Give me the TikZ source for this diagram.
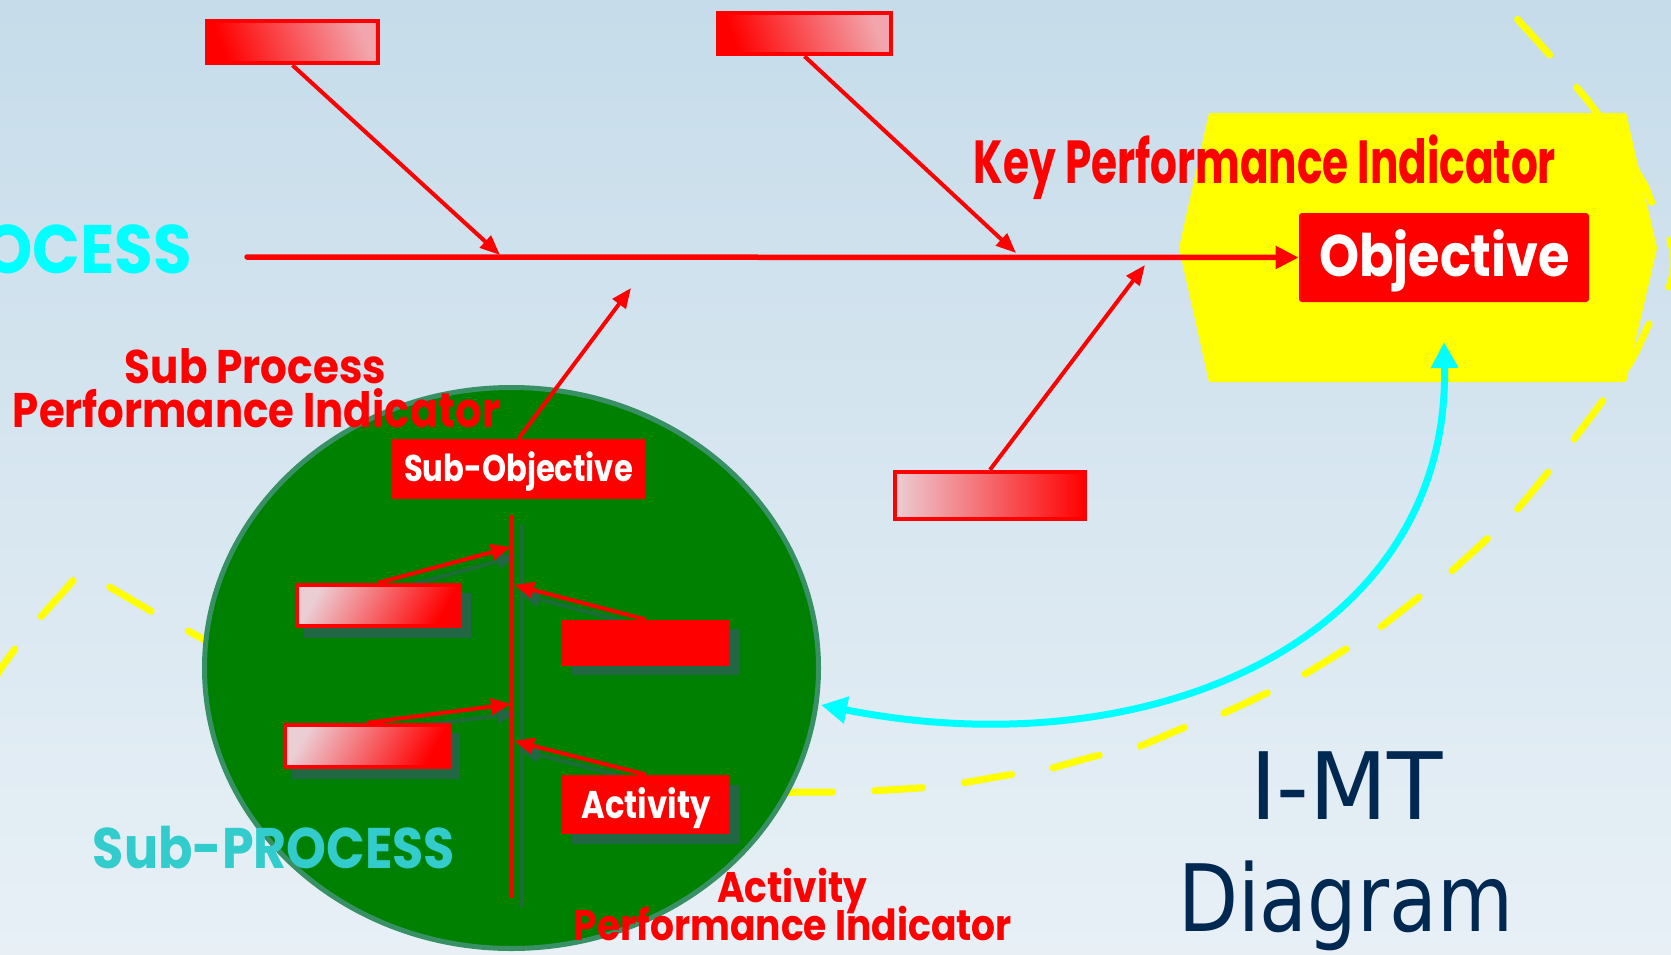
\documentclass[tikz,border=0pt]{standalone}
\usepackage{fontspec}
\usepackage{graphicx}
\usetikzlibrary{arrows.meta,shapes.geometric}
\setmainfont{Poppins}
\newfontfamily\dvfont{DejaVu Sans}
\newlength\pxu
\setlength\pxu{0.5pt}
\newcommand\fitw[3]{\resizebox{#2\pxu}{\height}{\fontsize{#1}{#1}\selectfont\bfseries #3}}
\newcommand\fitn[3]{\resizebox{#2\pxu}{\height}{\fontsize{#1}{#1}\selectfont\dvfont #3}}
\definecolor{bgtop}{RGB}{198,220,234}
\definecolor{bgbot}{RGB}{232,240,246}
\definecolor{cgreen}{RGB}{0,128,0}
\definecolor{cborder}{RGB}{55,145,100}
\definecolor{pinkA}{RGB}{242,165,172}
\definecolor{pinkB}{RGB}{235,205,212}
\definecolor{shadowc}{RGB}{45,95,90}
\definecolor{subproc}{RGB}{51,204,204}
\definecolor{navy}{RGB}{0,40,80}
\definecolor{pred}{RGB}{255,0,0}
\definecolor{pyellow}{RGB}{255,255,0}
\definecolor{pcyan}{RGB}{0,255,255}
\begin{document}
\begin{tikzpicture}[x=0.5pt,y=-0.5pt,
  txt/.style={inner sep=0,anchor=base},
  gbox/.style={draw=pred,line width=2.25pt,inner sep=0},
  sbox/.style={fill=pred,inner sep=0},
  shbox/.style={fill=shadowc,opacity=0.75,inner sep=0},
  bigarrow/.style={draw=pred,line width=2.75pt,-{Triangle[length=11.5pt,width=11pt]}},
  diagarrow/.style={draw=pred,line width=2pt,-{Triangle[length=10pt,width=8pt]}},
  innerarrow/.style={draw=pred,line width=2pt,-{Triangle[length=10pt,width=8pt]}},
  shadowarrow/.style={draw=shadowc,opacity=0.6,line width=2pt,-{Triangle[length=10pt,width=8pt]}},
  yelldash/.style={draw=pyellow,line width=3.5pt,line cap=round,dash pattern=on 24pt off 21pt},
  cyanarrow/.style={draw=pcyan,line width=3.5pt,{Triangle[length=13pt,width=13pt]}-{Triangle[length=13pt,width=13pt]}}
]
\useasboundingbox (0,0) rectangle (1671,954);
% background
\fill[top color=bgtop,bottom color=bgbot] (0,0) rectangle (1671,954);

% dashed yellow outline
\draw[yelldash] plot[smooth,tension=0.6] coordinates {
 (-10,690) (0,670) (28,632) (64,591) (80,575) (95,579) (137,603) (168,621) (203,639)
 (350,720) (600,790) (810,792) (866,791) (918,788) (956,784) (1008,775) (1044,770)
 (1096,756) (1132,749) (1183,728) (1217,716) (1267,693) (1298,678) (1346,649)
 (1375,631) (1419,597) (1447,575) (1488,538) (1514,513) (1549,471) (1571,443)
 (1604,399) (1630,363) (1650,322) (1668,290) (1674,262) (1668,235) (1652,203)
 (1640,177) (1597,113) (1572,82) (1548,53) (1512,13) (1495,-10)};

% yellow hexagon
\fill[pyellow] (1209,113) -- (1626,113) -- (1657,248) -- (1626,382) -- (1209,382) -- (1179,248) -- cycle;

% process texts
\node[txt,anchor=base east,text=pcyan] (proc) at (192,273) {\fitw{34.3}{288}{PROCESS}};
\node[txt,text=pred] (kpi) at (1265,183) {\fitw{30.4}{582}{Key Performance Indicator}};

% objective
\node[sbox,rounded corners=1.5pt,minimum width=290\pxu,minimum height=89\pxu] (obj) at (1444,257.5) {};
\node[txt,text=white] (objt) at (1444.5,276) {\fitw{29.3}{251}{Objective}};

% main spine
\coordinate (spine) at (247,257);
\draw[bigarrow,line cap=round] (spine) -- (obj.west);

% top and bottom cause boxes
\node[gbox,left color=pred,right color=pinkA,shading angle=110,minimum width=171\pxu,minimum height=42\pxu] (b1) at (292.5,42) {};
\node[gbox,left color=pred,right color=pinkA,shading angle=110,minimum width=173\pxu,minimum height=41\pxu] (b2) at (804.5,33.5) {};
\node[gbox,left color=pinkB,right color=pred,minimum width=190\pxu,minimum height=47\pxu] (b3) at (990,495.5) {};
\coordinate (t1) at (500,255);
\coordinate (t2) at (1016,253);
\coordinate (t3) at (1145,265);
\coordinate (t4) at (631,288);
\draw[diagarrow] (b1.south) -- (t1);
\draw[diagarrow] (b2.south) -- (t2);
\draw[diagarrow] (b3.north) -- (t3);

% sub process circle
\node[ellipse,draw=cborder,line width=2.5pt,fill=cgreen,minimum width=614\pxu,minimum height=561\pxu,inner sep=0] (circ) at (511.5,668) {};

% sub process labels
\node[txt,text=pred] (spi1) at (255.5,383) {\fitw{23.6}{261}{Sub Process}};
\node[txt,text=pred] (spi2) at (256.5,427) {\fitw{24.3}{487}{Performance Indicator}};

% sub-objective
\node[sbox,minimum width=253\pxu,minimum height=60\pxu] (so) at (518.5,469) {};
\node[txt,text=white] (sot) at (518.5,481) {\fitw{18.6}{229}{Sub-Objective}};
\draw[diagarrow] (so.north) -- (t4);

% inner geometry
\coordinate (vtop) at (511,515);
\coordinate (vbot) at (511,898);
\coordinate (tl1) at (511,547);
\coordinate (tl2) at (511,704);
\coordinate (tr1) at (514,585);
\coordinate (tr2) at (514,741);
\coordinate (l1n) at (378.5,583);
\coordinate (l2n) at (367,723);
\coordinate (r1n) at (646,620);
\coordinate (r2n) at (646,775);

% shadows inside circle
\draw[draw=shadowc,opacity=0.6,line width=2pt] ([shift={(11,10)}]vtop) -- ([shift={(11,9)}]vbot);
\draw[shadowarrow] ([shift={(6,9)}]l1n) -- ([shift={(6,9)}]tl1);
\draw[shadowarrow] ([shift={(6,9)}]l2n) -- ([shift={(6,9)}]tl2);
\draw[shadowarrow] ([shift={(6,9)}]r1n) -- ([shift={(6,9)}]tr1);
\draw[shadowarrow] ([shift={(6,9)}]r2n) -- ([shift={(6,9)}]tr2);
\node[shbox,minimum width=167\pxu,minimum height=45\pxu] (l1s) at (387.5,615) {};
\node[shbox,minimum width=168\pxu,minimum height=46\pxu] (l2s) at (376,756) {};
\node[shbox,minimum width=168\pxu,minimum height=46\pxu] (r1s) at (656,652) {};
\node[shbox,minimum width=168\pxu,minimum height=59\pxu] (r2s) at (656,814) {};

% inner boxes
\node[gbox,left color=pinkB,right color=pred,shading angle=60,minimum width=163\pxu,minimum height=41\pxu] (l1) at (378.5,605.5) {};
\node[gbox,left color=pinkB,right color=pred,shading angle=60,minimum width=164\pxu,minimum height=42\pxu] (l2) at (367,746) {};
\node[sbox,minimum width=168\pxu,minimum height=46\pxu] (r1) at (646,643) {};
\node[sbox,minimum width=168\pxu,minimum height=59\pxu] (r2) at (646,804.5) {};
\node[txt,text=white] (r2t) at (646,818) {\fitw{19.3}{129}{Activity}};

\draw[pred,line width=2pt] (vtop) -- (vbot);
\draw[innerarrow] (l1.north) -- (tl1);
\draw[innerarrow] (l2.north) -- (tl2);
\draw[innerarrow] (r1.north) -- (tr1);
\draw[innerarrow] (r2.north) -- (tr2);

% sub-process title and activity labels
\node[txt,text=subproc] (subp) at (274,868) {\fitw{28.6}{362}{Sub-PROCESS}};
\node[txt,text=pred] (api1) at (792,902) {\fitw{21.4}{150}{Activity}};
\node[txt,text=pred] (api2) at (793,940) {\fitw{21.4}{438}{Performance Indicator}};

% feedback arrow
\coordinate (fbl) at (821,705);
\coordinate (fbr) at (1444,342);
\draw[cyanarrow] (fbl) .. controls (1150,770) and (1450,640) .. (fbr);

% title
\node[txt,text=navy] (imt) at (1346.5,819) {\fitn{46.5}{193}{I-MT}};
\node[txt,text=navy] (diag) at (1345.5,931) {\fitn{46.5}{335}{Diagram}};
\end{tikzpicture}
\end{document}
